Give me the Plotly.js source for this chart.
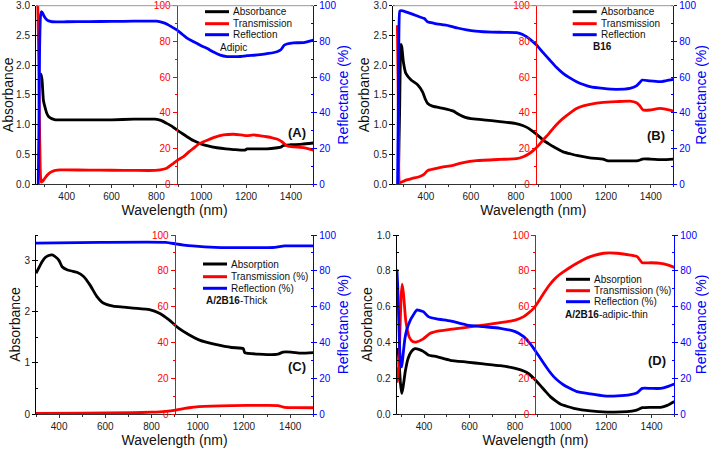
<!DOCTYPE html>
<html><head><meta charset="utf-8">
<script src="https://cdn.plot.ly/plotly-3.0.1.min.js"></script>
<style>html,body{margin:0;padding:0;background:#fff}#chart{width:709px;height:449px}</style>
</head><body><div id="chart"></div>
<script>
// ---------- DATA ----------
// Panel A (Adipic)
const A_abs_wl = [281, 285, 290, 296, 304, 311, 320, 333, 350, 400, 500, 600, 700, 794, 820, 846, 870, 891, 915, 935, 965, 995, 1030, 1070, 1110, 1144, 1195, 1205, 1250, 1293, 1340, 1355, 1367, 1400, 1450, 1500];
const A_abs    = [1.8, 1.85, 1.75, 1.41, 1.28, 1.19, 1.13, 1.10, 1.08, 1.08, 1.08, 1.08, 1.09, 1.09, 1.07, 1.02, 0.97, 0.91, 0.85, 0.80, 0.73, 0.68, 0.64, 0.61, 0.59, 0.58, 0.57, 0.59, 0.59, 0.59, 0.61, 0.62, 0.65, 0.66, 0.67, 0.69];
const A_tr_wl  = [271, 274, 278, 282, 286, 292, 300, 310, 320, 335, 350, 370, 400, 500, 600, 700, 794, 817, 846, 876, 900, 921, 945, 965, 990, 1010, 1035, 1055, 1099, 1144, 1175, 1204, 1233, 1265, 1293, 1320, 1338, 1360, 1382, 1412, 1457, 1500];
const A_tr     = [100, 80, 40, 8, 1, 1.5, 2.8, 4.5, 5.8, 7, 7.6, 7.9, 7.9, 7.8, 7.7, 7.6, 7.6, 7.9, 8.8, 11.6, 13.8, 15.3, 18, 20, 22.5, 23.7, 25, 26, 27.5, 27.9, 27.6, 27.1, 27.5, 27, 26.5, 25.8, 25.2, 23.7, 21.5, 20.8, 20.4, 19];
const A_ref_wl = [273, 276, 279, 283, 287, 292, 300, 310, 320, 335, 400, 500, 600, 700, 800, 830, 850, 870, 891, 915, 935, 960, 980, 1000, 1025, 1055, 1085, 1115, 1144, 1175, 1204, 1235, 1263, 1300, 1338, 1355, 1370, 1382, 1412, 1457, 1500];
const A_ref    = [0, 30, 75, 94, 96.6, 96, 94, 92.3, 91.5, 91, 91, 91.1, 91.2, 91.3, 91.3, 90.5, 89.5, 88, 86.4, 84, 82, 80.2, 78.9, 77.5, 76.1, 74, 72.3, 71.5, 71.4, 71.5, 72, 72.2, 72.5, 73.2, 74.2, 75.3, 77.8, 78.5, 79.2, 79.3, 80.7];
// Panel B (B16)
const B_abs_wl = [277, 283, 289, 293, 300, 311, 334, 363, 385, 397, 407, 429, 482, 520, 551, 575, 600, 655, 729, 796, 833, 855, 877, 900, 921, 945, 966, 990, 1010, 1040, 1070, 1129, 1188, 1200, 1210, 1277, 1336, 1350, 1362, 1396, 1455, 1500];
const B_abs    = [0, 1.2, 2.35, 2.3, 2.05, 1.86, 1.75, 1.67, 1.55, 1.43, 1.36, 1.31, 1.27, 1.23, 1.16, 1.12, 1.10, 1.08, 1.05, 1.02, 0.98, 0.94, 0.88, 0.81, 0.74, 0.68, 0.63, 0.58, 0.54, 0.51, 0.48, 0.44, 0.42, 0.40, 0.39, 0.39, 0.39, 0.40, 0.42, 0.42, 0.41, 0.42];
const B_tr_wl  = [273, 276, 279, 282, 288, 300, 311, 340, 370, 393, 403, 415, 447, 482, 507, 566, 625, 729, 803, 833, 855, 877, 900, 921, 945, 966, 990, 1010, 1040, 1070, 1100, 1129, 1188, 1247, 1307, 1336, 1350, 1366, 1396, 1440, 1470, 1500];
const B_tr     = [89, 60, 20, 1.3, 0.8, 1.5, 2.2, 3.2, 4.1, 5.6, 7, 7.9, 8.8, 9.7, 10.1, 12, 13.1, 13.8, 14.2, 15.3, 16.7, 18.7, 21.5, 24.7, 28, 31.2, 34.5, 36.8, 39.8, 42.4, 43.8, 44.7, 45.8, 46.2, 46.5, 45.6, 44, 41.5, 41.5, 42.4, 41.8, 40.9];
const B_ref_wl = [274, 277, 280, 284, 290, 314, 340, 370, 393, 407, 437, 482, 507, 540, 581, 620, 655, 729, 803, 830, 847, 870, 892, 920, 951, 980, 1010, 1040, 1070, 1100, 1129, 1188, 1247, 1307, 1336, 1350, 1362, 1396, 1440, 1470, 1500];
const B_ref    = [0, 40, 85, 97, 97.2, 96.4, 95.3, 93.8, 92.8, 91, 90.1, 89.2, 88.6, 87.5, 86.4, 85.7, 85.4, 85.1, 84.9, 83.9, 82.6, 80.4, 77.9, 73.8, 69.5, 65.5, 62.1, 59.5, 57.4, 55.8, 54.6, 53.6, 53.1, 53.6, 55, 56.8, 58.3, 57.8, 57.4, 58, 58.7];
// Panel C (A/2B16-Thick)
const C_abs_wl = [300, 315, 327, 340, 355, 370, 385, 400, 413, 434, 460, 477, 506, 534, 563, 591, 634, 680, 720, 791, 834, 876, 917, 962, 1005, 1040, 1076, 1147, 1197, 1203, 1262, 1300, 1347, 1369, 1404, 1447, 1500];
const C_abs    = [2.75, 2.88, 2.98, 3.06, 3.10, 3.11, 3.07, 3.0, 2.88, 2.82, 2.79, 2.77, 2.69, 2.52, 2.30, 2.17, 2.11, 2.09, 2.07, 2.04, 1.97, 1.84, 1.68, 1.55, 1.45, 1.40, 1.36, 1.30, 1.28, 1.20, 1.17, 1.16, 1.17, 1.21, 1.21, 1.19, 1.20];
const C_tr_wl  = [300, 500, 720, 800, 862, 905, 940, 962, 1005, 1147, 1290, 1347, 1376, 1420, 1500];
const C_tr     = [0.4, 0.5, 0.7, 1.0, 1.5, 2.2, 3.0, 3.5, 4.1, 4.7, 4.8, 4.7, 3.7, 3.6, 3.5];
const C_ref_wl = [300, 577, 862, 905, 940, 977, 1076, 1219, 1333, 1376, 1500];
const C_ref    = [95.5, 95.9, 95.9, 95, 94.4, 93.9, 93.1, 92.9, 93.1, 93.9, 93.9];
// Panel D (A/2B16-adipic-thin)
const D_abs_wl = [285, 290, 296, 302, 308, 318, 330, 345, 360, 380, 397, 419, 456, 515, 588, 661, 735, 801, 838, 860, 882, 911, 935, 955, 980, 999, 1030, 1058, 1131, 1205, 1293, 1330, 1359, 1396, 1440, 1469, 1500];
const D_abs    = [0.37, 0.30, 0.18, 0.115, 0.15, 0.24, 0.31, 0.35, 0.365, 0.36, 0.35, 0.33, 0.32, 0.30, 0.29, 0.28, 0.27, 0.255, 0.24, 0.225, 0.20, 0.16, 0.125, 0.097, 0.072, 0.056, 0.042, 0.032, 0.017, 0.011, 0.013, 0.02, 0.035, 0.037, 0.037, 0.048, 0.07];
const D_tr_wl  = [283, 286, 293, 299, 304, 310, 320, 335, 350, 365, 397, 426, 460, 515, 588, 661, 735, 801, 838, 860, 882, 904, 926, 948, 970, 992, 1014, 1043, 1072, 1100, 1131, 1190, 1249, 1307, 1337, 1359, 1396, 1440, 1470, 1500];
const D_tr     = [26, 18, 40, 65, 72.5, 67, 52, 43, 40.5, 40.2, 42, 45, 46.3, 47.3, 48.4, 49.7, 51, 52.5, 54.4, 56.5, 59, 63, 67.4, 71.5, 74.9, 77.5, 79.5, 82, 84.2, 86.2, 87.9, 89.8, 89.8, 88.8, 87.9, 84.5, 84.5, 84.2, 83.3, 81.9];
const D_ref_wl = [281, 285, 292, 298, 302, 308, 316, 324, 340, 353, 368, 382, 397, 419, 456, 515, 588, 661, 735, 801, 838, 860, 882, 904, 926, 948, 970, 992, 1014, 1043, 1072, 1131, 1190, 1249, 1307, 1337, 1359, 1396, 1440, 1470, 1500];
const D_ref    = [80.8, 70, 40, 27, 26.4, 33, 42, 47, 52.5, 55.3, 58.1, 57.8, 57.2, 54.4, 53.1, 52, 49.7, 48.8, 47.9, 46, 43.2, 40.3, 36.7, 32.5, 28.3, 24.3, 20.9, 18.3, 16.2, 14.2, 12.5, 11.2, 10.1, 10.1, 10.8, 11.9, 14.3, 14.3, 14.3, 15.3, 16.8];

// Labels
const namesAB = ['Absorbance', 'Transmission', 'Reflection'];
const namesCD = ['Absorption', 'Transmission (%)', 'Reflection (%)'];
const sampleA = 'Adipic';
const sampleB = '<b>B16</b>';
const sampleC = '<b>A/2B16</b>-Thick';
const sampleD = '<b>A/2B16</b>-adipic-thin';
const panelLabels = ['(A)', '(B)', '(C)', '(D)'];
const xTitle = 'Wavelength (nm)';
const yTitle = 'Absorbance';
const y3Title = 'Reflectance (%)';

// ---------- LAYOUT ----------
const W = 709, H = 449;
const FONT = 'Liberation Sans, Arial, sans-serif';
const BLACK = '#000000', RED = '#ff0000', BLUE = '#0000ff';
const px = v => v / W;
const py = v => 1 - v / H;

const panels = [
  {n:1, xd:[36,313.3], yd:[5.7,184], xr:[263,1500], yr:[0,3], dt:0.5, mdt:0.25, fmt:'.1f', red:890,
   data:[[A_abs_wl,A_abs],[A_tr_wl,A_tr],[A_ref_wl,A_ref]], names:namesAB,
   leg:{x:205, rows:[11.7,23.7,34.7], sx:218, sy:47, s:sampleA}, lab:[297,132], top:true},
  {n:2, xd:[393.3,673.3], yd:[5.7,184], xr:[255,1500], yr:[0,3], dt:0.5, mdt:0.25, fmt:'.1f', red:889,
   data:[[B_abs_wl,B_abs],[B_tr_wl,B_tr],[B_ref_wl,B_ref]], names:namesAB,
   leg:{x:572.7, rows:[11.7,23.7,34.7], sx:590.7, sy:46.7, s:sampleB}, lab:[656,135], top:true},
  {n:3, xd:[36,313.3], yd:[235,414], xr:[300,1500], yr:[0,3.5], dt:1, mdt:0.5, fmt:'d', red:900,
   data:[[C_abs_wl,C_abs],[C_tr_wl,C_tr],[C_ref_wl,C_ref]], names:namesCD,
   leg:{x:203, rows:[264,276.7,288.3], sx:204, sy:300, s:sampleC}, lab:[296.7,366.7], top:false},
  {n:4, xd:[396.7,674.3], yd:[235,414], xr:[280,1500], yr:[0,1], dt:0.2, mdt:0.1, fmt:'.1f', red:889,
   data:[[D_abs_wl,D_abs],[D_tr_wl,D_tr],[D_ref_wl,D_ref]], names:namesCD,
   leg:{x:566, rows:[279.3,290.7,301.7], sx:563, sy:314.3, s:sampleD}, lab:[656.7,360], top:false}
];

const layout = {
  width: W, height: H, margin: {l:0, r:0, t:0, b:0},
  paper_bgcolor: '#fff', plot_bgcolor: 'rgba(0,0,0,0)',
  font: {family: FONT, size: 10, color: '#222'},
  showlegend: false, annotations: [], shapes: []
};
const traces = [];
const colors = [BLACK, RED, BLUE];

panels.forEach((p, i) => {
  const k = p.n;
  const xid = k === 1 ? 'x' : 'x' + k;
  const yL = 3 * (k - 1) + 1, yR = yL + 1, yB = yL + 2, yD = 12 + k;
  const yid = n => (n === 1 ? 'y' : 'y' + n);
  const xdom = [px(p.xd[0]), px(p.xd[1])];
  const ydom = [py(p.yd[1]), py(p.yd[0])];
  const redPos = xdom[0] + (p.red - p.xr[0]) / (p.xr[1] - p.xr[0]) * (xdom[1] - xdom[0]);

  layout['xaxis' + (k === 1 ? '' : k)] = {
    domain: xdom, range: p.xr, anchor: yid(yL),
    tick0: 0, dtick: 200, ticks: 'outside', ticklen: 3, tickcolor: '#333',
    minor: {dtick: 100, ticks: 'outside', ticklen: 2, tickcolor: '#333', showgrid: false},
    showline: true, linecolor: '#333', linewidth: 1, showgrid: false, zeroline: false,
    tickfont: {size: 10, color: '#222'},
    title: {text: xTitle, font: {size: 14, color: '#111'}, standoff: 2}
  };
  layout['yaxis' + (yL === 1 ? '' : yL)] = {
    domain: ydom, range: p.yr, anchor: xid, dtick: p.dt, tick0: 0, tickformat: p.fmt,
    ticks: 'outside', ticklen: 3, tickcolor: '#000',
    minor: {dtick: p.mdt, ticks: 'inside', ticklen: 2, tickcolor: '#000', showgrid: false},
    showline: true, linecolor: '#000', linewidth: 1, showgrid: false, zeroline: false,
    tickfont: {size: 10, color: '#222'},
    title: {text: yTitle, font: {size: 14, color: '#111'}, standoff: 0}
  };
  layout['yaxis' + yR] = {
    overlaying: yid(yL), anchor: 'free', position: redPos, side: 'left',
    range: [0, 100], dtick: 20, tick0: 0, ticks: 'outside', ticklen: 4, tickcolor: RED,
    minor: {dtick: 10, ticks: 'outside', ticklen: 2, tickcolor: RED, showgrid: false},
    showline: true, linecolor: RED, linewidth: 1, showgrid: false, zeroline: false,
    tickfont: {size: 10, color: RED}
  };
  layout['yaxis' + yD] = {
    overlaying: yid(yL), anchor: 'free', position: redPos, side: 'left',
    range: [0, 100], dtick: 20, tick0: 0, ticks: 'inside', ticklen: 4, tickcolor: RED,
    minor: {dtick: 10, ticks: 'inside', ticklen: 2, tickcolor: RED, showgrid: false},
    showline: false, showticklabels: false, showgrid: false, zeroline: false
  };
  layout['yaxis' + yB] = {
    overlaying: yid(yL), anchor: xid, side: 'right',
    range: [0, 100], dtick: 20, tick0: 0, ticks: 'outside', ticklen: 3, tickcolor: BLUE,
    minor: {dtick: 10, ticks: 'inside', ticklen: 2, tickcolor: BLUE, showgrid: false},
    showline: true, linecolor: BLUE, linewidth: 1, showgrid: false, zeroline: false,
    tickfont: {size: 10, color: BLUE},
    title: {text: y3Title, font: {size: 14, color: BLUE}, standoff: 2}
  };

  const yaxes = [yid(yL), yid(yR), yid(yB)];
  p.data.forEach((d, j) => {
    traces.push({
      type: 'scatter', mode: 'lines', x: d[0], y: d[1], name: p.names[j],
      xaxis: xid, yaxis: yaxes[j], cliponaxis: true,
      line: {color: colors[j], width: 2.8, shape: 'spline', smoothing: 0.5},
      hoverinfo: 'skip'
    });
  });

  // manual compact legend
  p.leg.rows.forEach((ry, j) => {
    layout.shapes.push({type: 'line', xref: 'paper', yref: 'paper',
      x0: px(p.leg.x), x1: px(p.leg.x + 24), y0: py(ry), y1: py(ry),
      line: {color: colors[j], width: 3}});
    layout.annotations.push({xref: 'paper', yref: 'paper', x: px(p.leg.x + 26), y: py(ry),
      xanchor: 'left', yanchor: 'middle', showarrow: false, text: p.names[j],
      font: {size: 10, color: '#111'}});
  });
  layout.annotations.push({xref: 'paper', yref: 'paper', x: px(p.leg.sx), y: py(p.leg.sy),
    xanchor: 'left', yanchor: 'middle', showarrow: false, text: p.leg.s,
    font: {size: 10, color: '#111'}});
  layout.annotations.push({xref: 'paper', yref: 'paper', x: px(p.lab[0]), y: py(p.lab[1]),
    xanchor: 'center', yanchor: 'middle', showarrow: false, text: '<b>' + panelLabels[i] + '</b>',
    font: {size: 13, color: '#111'}});
  if (p.top) {
    layout.shapes.push({type: 'line', xref: 'paper', yref: 'paper',
      x0: xdom[0], x1: xdom[1], y0: ydom[1], y1: ydom[1], line: {color: '#999', width: 1}});
  }
});

Plotly.newPlot('chart', traces, layout, {displayModeBar: false, staticPlot: true});
</script></body></html>
